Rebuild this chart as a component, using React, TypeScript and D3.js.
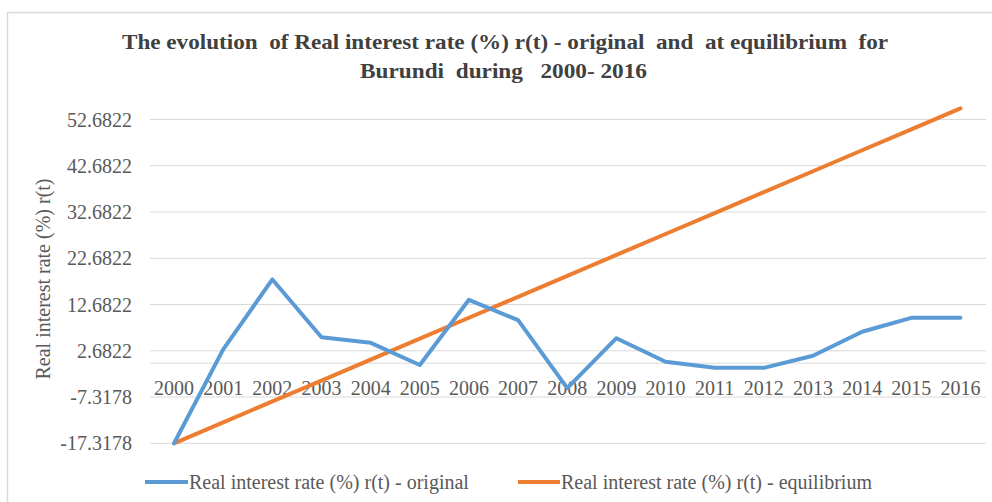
import React from "react";
import * as d3 from "d3";

const years = ["2000","2001","2002","2003","2004","2005","2006","2007","2008","2009","2010","2011","2012","2013","2014","2015","2016"];
const original = [-17.3178, 3.0, 18.1, 5.6, 4.4, -0.4, 13.7, 9.3, -5.4, 5.4, 0.3, -1.0, -1.0, 1.6, 6.8, 9.8, 9.8];
const equilibrium = [-17.3178, -12.8, -8.27, -3.75, 0.78, 5.3, 9.83, 14.35, 18.88, 23.4, 27.93, 32.45, 36.98, 41.5, 46.03, 50.55, 55.08];
const yTicks = [-17.3178, -7.3178, 2.6822, 12.6822, 22.6822, 32.6822, 42.6822, 52.6822];
const yTickLabels = ["-17.3178", "-7.3178", "2.6822", "12.6822", "22.6822", "32.6822", "42.6822", "52.6822"];
const titleLines = ["The evolution  of Real interest rate (%) r(t) - original  and  at equilibrium  for", "Burundi  during   2000- 2016"];
const seriesNames = ["Real interest rate (%) r(t) - original", "Real interest rate (%) r(t) - equilibrium"];
const yAxisTitle = "Real interest rate (%) r(t)";

const W = 992, H = 502;
const FONT = "'Liberation Serif', 'Times New Roman', serif";
const BLUE = "#5B9BD5";
const ORANGE = "#ED7D31";
const TXT = "#595959";

export default function App() {
  const x = d3.scaleBand().domain(years).range([149.5, 985]);
  const cx = (d: string) => (x(d) as number) + x.bandwidth() / 2;
  const y = d3.scaleLinear().domain([-17.3178, 52.6822]).range([443.3, 119.5]);
  const line = d3.line<number>().x((_, i) => cx(years[i])).y((v) => y(v));

  return (
    <svg width={W} height={H} style={{ position: "absolute", left: 0, top: 0, background: "#fff" }} fontFamily={FONT}>
      <rect x={0} y={0} width={W} height={H} fill="#fff" />
      <rect x={7.5} y={12.5} width={W + 20} height={H + 20} fill="none" stroke="#d9d9d9" strokeWidth={1.5} />
      {titleLines.map((t, i) => (
        <text key={i} x={i === 0 ? 122 : 360} y={i === 0 ? 49 : 78} fontSize={22} fontWeight="bold" fill="#404040"
          style={{ whiteSpace: "pre" }}
          textLength={i === 0 ? 766 : 287} lengthAdjust="spacingAndGlyphs">{t}</text>
      ))}
      {yTicks.map((v, i) => (
        <g key={i}>
          <line x1={150} x2={986} y1={y(v)} y2={y(v)} stroke="#d9d9d9" strokeWidth={1} />
          <text x={132} y={y(v) + 7} textAnchor="end" fontSize={20} fill={TXT}>{yTickLabels[i]}</text>
        </g>
      ))}
      <line x1={150} x2={986} y1={y(0)} y2={y(0)} stroke="#d9d9d9" strokeWidth={1} />
      {years.map((yr) => (
        <text key={yr} x={cx(yr)} y={395} textAnchor="middle" fontSize={20} fill={TXT}>{yr}</text>
      ))}
      <text transform={`translate(50,279) rotate(-90)`} textAnchor="middle" fontSize={20} fill={TXT}>{yAxisTitle}</text>
      <path d={line(equilibrium) || ""} fill="none" stroke={ORANGE} strokeWidth={4} strokeLinejoin="round" strokeLinecap="round" />
      <path d={line(original) || ""} fill="none" stroke={BLUE} strokeWidth={4} strokeLinejoin="round" strokeLinecap="round" />
      <line x1={145} x2={188} y1={482} y2={482} stroke={BLUE} strokeWidth={4} />
      <text x={189} y={489} fontSize={20} fill={TXT}>{seriesNames[0]}</text>
      <line x1={518} x2={560} y1={482} y2={482} stroke={ORANGE} strokeWidth={4} />
      <text x={561} y={489} fontSize={20} fill={TXT}>{seriesNames[1]}</text>
    </svg>
  );
}
